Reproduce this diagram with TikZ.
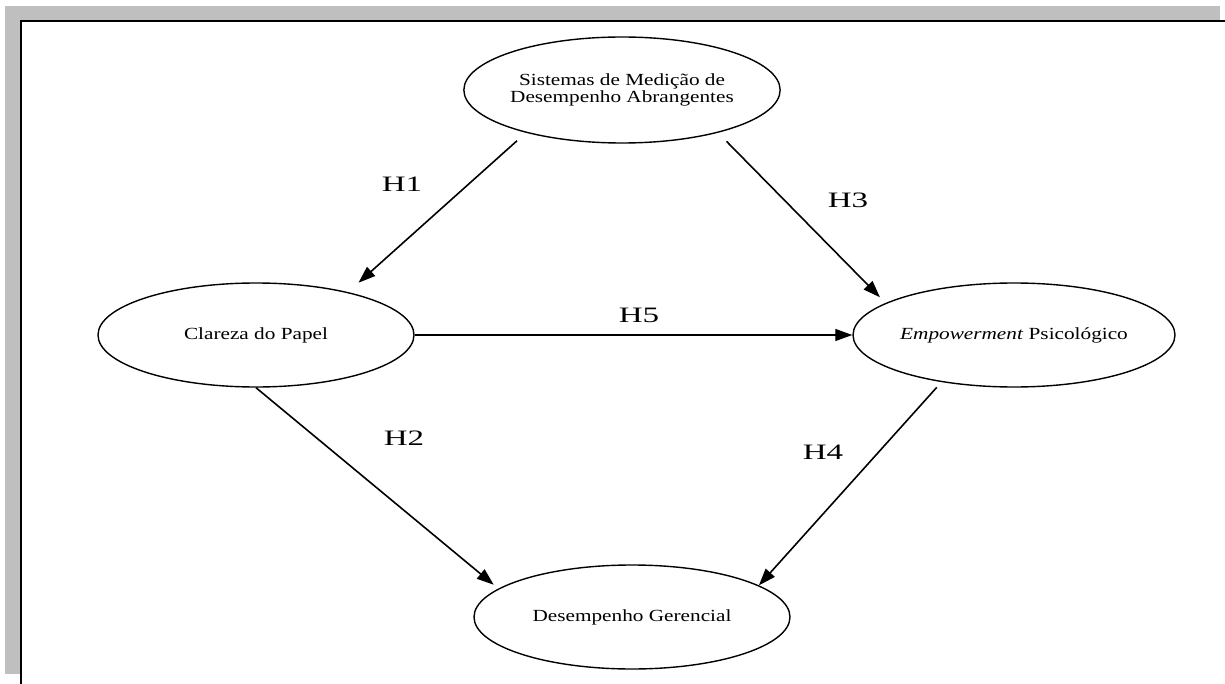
\documentclass[tikz,border=0pt]{standalone}
\usepackage{fontspec}
\newfontfamily\boxfont[FakeStretch=1.25]{Liberation Serif}
\newfontfamily\hypfont[FakeStretch=1.5]{Liberation Serif}
\usetikzlibrary{arrows.meta,shapes.geometric}

\tikzset{
	construct/.style={draw, ellipse, line width=0.7pt, minimum width=158pt, minimum height=52pt, inner sep=0pt, align=center, font=\boxfont\fontsize{8.5}{8.5}\selectfont},
	hyp/.style={-{Triangle[length=8.5pt,width=6pt]}, line width=0.8pt},
	hyplabel/.style={font=\hypfont\fontsize{11}{13}\selectfont}
}

\begin{document}
\begin{tikzpicture}[x=0.5pt, y=-0.5pt]
			\useasboundingbox (0,0) rectangle (1225,684);
			\fill[black!25] (5,6) rectangle (1220,21);
			\fill[black!25] (5,6) rectangle (20,674);
			\draw[line width=1pt] (21,684) -- (21,21.5) -- (1225,21.5);
			\node[construct, minimum height=53pt] (sist) at (622,90) {Sistemas de Medição de\\Desempenho Abrangentes};
			\node[construct] (clareza) at (256,335) {Clareza do Papel};
			\node[construct] (empow) at (1014,335) {\textit{Empowerment} Psicológico};
			\node[construct] (desemp) at (632,617) {Desempenho Gerencial};
			\draw[hyp, shorten <=6pt, shorten >=7pt] (sist.204) -- (clareza.25);
			\draw[hyp, shorten <=6pt, shorten >=4pt] (sist.336) -- (empow.166);
			\draw[hyp, line width=0.6pt] (clareza.east) -- (empow.west);
			\draw[hyp, shorten >=3pt] (clareza.south) -- (desemp.168);
			\draw[hyp, shorten <=3.5pt] (empow.213) -- (desemp.14);
			\node[hyplabel] (h1) at (402,184) {H1};
			\node[hyplabel] (h3) at (848,200) {H3};
			\node[hyplabel] (h5) at (639,315) {H5};
			\node[hyplabel] (h2) at (404,438) {H2};
			\node[hyplabel] (h4) at (823,452) {H4};
		\end{tikzpicture}
\end{document}
